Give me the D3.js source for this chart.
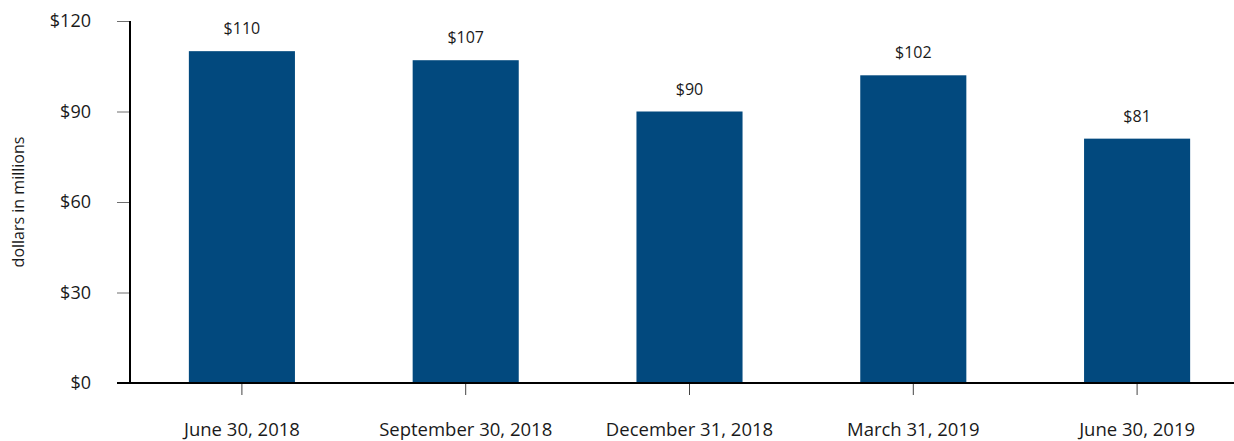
<!DOCTYPE html>
<html>
<head>
<meta charset="utf-8">
<script src="https://cdn.jsdelivr.net/npm/d3@7"></script>
<style>
  html, body { margin: 0; padding: 0; background: #fff; }
  svg { display: block; font-family: "Open Sans", sans-serif; }
</style>
</head>
<body>
<svg id="chart" width="1234" height="441"></svg>
<script>
// Quarter-end dates and values (dollars in millions)
const categories = ["June 30, 2018", "September 30, 2018", "December 31, 2018", "March 31, 2019", "June 30, 2019"];
const values = [110, 107, 90, 102, 81];
const yTicks = [0, 30, 60, 90, 120];

const svg = d3.select("#chart");
const plot = { left: 130, right: 1249, top: 21, bottom: 383 };

const x = d3.scaleBand()
  .domain(categories)
  .range([plot.left, plot.right])
  .paddingInner(0.526)
  .paddingOuter(0.263);

const y = d3.scaleLinear()
  .domain([0, 120])
  .range([plot.bottom, plot.top]);

// Bars
svg.append("g")
  .selectAll("rect")
  .data(values)
  .join("rect")
  .attr("x", (d, i) => x(categories[i]))
  .attr("y", d => y(d))
  .attr("width", x.bandwidth())
  .attr("height", d => y(0) - y(d))
  .attr("fill", "#02497e");

// Value labels above the bars
svg.append("g")
  .selectAll("text")
  .data(values)
  .join("text")
  .attr("x", (d, i) => x(categories[i]) + x.bandwidth() / 2)
  .attr("y", d => y(d) - 17)
  .attr("text-anchor", "middle")
  .attr("font-size", 16)
  .attr("fill", "#1a1a1a")
  .text(d => "$" + d);

// Y axis
const yAxis = svg.append("g")
  .attr("transform", `translate(${plot.left},0)`)
  .call(d3.axisLeft(y).tickValues(yTicks).tickSize(13).tickPadding(26).tickFormat(d => "$" + d));
yAxis.select(".domain").remove();
yAxis.selectAll(".tick line").attr("stroke", "#6e6e6e");
yAxis.selectAll(".tick text")
  .attr("font-family", "Open Sans, sans-serif")
  .attr("font-size", 18)
  .attr("fill", "#1a1a1a");
svg.append("line")
  .attr("x1", plot.left).attr("x2", plot.left)
  .attr("y1", y(120)).attr("y2", y(0))
  .attr("stroke", "#000").attr("stroke-width", 2);

// X axis
const xAxis = svg.append("g")
  .attr("transform", `translate(0,${plot.bottom})`)
  .call(d3.axisBottom(x).tickSize(12).tickPadding(28));
xAxis.select(".domain").remove();
xAxis.selectAll(".tick line").attr("stroke", "#444");
xAxis.selectAll(".tick text")
  .attr("font-family", "Open Sans, sans-serif")
  .attr("font-size", 18.5)
  .attr("fill", "#1a1a1a");
svg.append("line")
  .attr("x1", 117).attr("x2", 1234)
  .attr("y1", y(0)).attr("y2", y(0))
  .attr("stroke", "#000").attr("stroke-width", 2);

// Y axis title
svg.append("text")
  .attr("transform", `translate(24,${(plot.top + plot.bottom) / 2}) rotate(-90)`)
  .attr("text-anchor", "middle")
  .attr("font-size", 16)
  .attr("fill", "#1a1a1a")
  .text("dollars in millions");
</script>
</body>
</html>
